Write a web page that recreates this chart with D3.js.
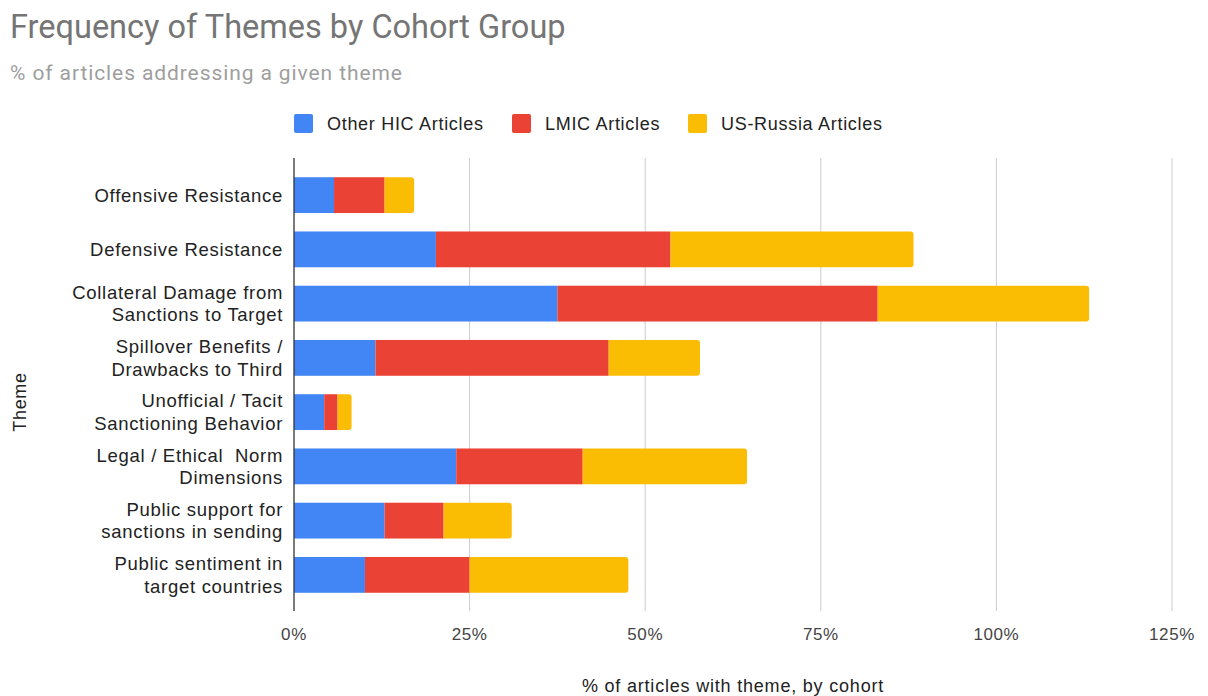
<!DOCTYPE html>
<meta charset="utf-8" />
<style>
  body { margin: 0; background: #fff; }
  text { font-family: "Liberation Sans", Arial, sans-serif; white-space: pre; }
</style>
<body>
<div id="chart"></div>
<script src="https://d3js.org/d3.v7.min.js"></script>
<script>
  // data (percent of articles)
  var themes = [
    ["Offensive Resistance"],
    ["Defensive Resistance"],
    ["Collateral Damage from", "Sanctions to Target"],
    ["Spillover Benefits /", "Drawbacks to Third"],
    ["Unofficial / Tacit", "Sanctioning Behavior"],
    ["Legal / Ethical  Norm", "Dimensions"],
    ["Public support for", "sanctions in sending"],
    ["Public sentiment in", "target countries"]
  ];
  var seriesNames = ["Other HIC Articles", "LMIC Articles", "US-Russia Articles"];
  var otherHIC = [5.7, 20.2, 37.5, 11.6, 4.3, 23.1, 12.9, 10.1];
  var lmic = [7.2, 33.4, 45.6, 33.2, 1.9, 18.0, 8.4, 14.9];
  var usRussia = [4.2, 34.6, 30.1, 13.0, 2.0, 23.4, 9.7, 22.6];
  var xTicks = [0, 25, 50, 75, 100, 125];
  var colors = ["#4285f4", "#ea4335", "#fbbc04"];

  var W = 1208, H = 696;
  var plot = { left: 294, right: 1172, top: 158, bottom: 611 };

  var svg = d3.select("#chart").append("svg")
    .attr("width", W).attr("height", H);

  // title + subtitle
  svg.append("text").attr("x", 10).attr("y", 38)
    .style("font-family", "Roboto").style("font-size", "32.5px")
    .attr("fill", "#757575").text("Frequency of Themes by Cohort Group");
  svg.append("text").attr("x", 10).attr("y", 80)
    .style("font-family", "Roboto").style("font-size", "21px")
    .style("letter-spacing", "0.9px")
    .attr("fill", "#9e9e9e").text("% of articles addressing a given theme");

  // legend
  var legendX = [294, 512, 688];
  seriesNames.forEach(function (name, i) {
    svg.append("rect").attr("x", legendX[i]).attr("y", 114)
      .attr("width", 19).attr("height", 19).attr("rx", 2)
      .attr("fill", colors[i]);
    svg.append("text").attr("x", legendX[i] + 33).attr("y", 130)
      .style("font-size", "18px").style("letter-spacing", "0.7px")
      .attr("fill", "#222").text(name);
  });

  // scales
  var x = d3.scaleLinear().domain([0, 125]).range([plot.left, plot.right]);
  var y = d3.scaleBand().domain(d3.range(themes.length))
    .range([168, 602]).paddingInner(0.34).paddingOuter(0.17);

  // gridlines
  svg.append("g").selectAll("line").data(xTicks.slice(1)).enter()
    .append("line")
    .attr("x1", function (d) { return x(d); }).attr("x2", function (d) { return x(d); })
    .attr("y1", plot.top).attr("y2", plot.bottom)
    .attr("stroke", "#cccccc").attr("stroke-width", 1);

  // tick labels
  svg.append("g").selectAll("text").data(xTicks).enter()
    .append("text")
    .attr("x", function (d) { return x(d); }).attr("y", 640)
    .attr("text-anchor", "middle").style("font-size", "17px")
    .style("letter-spacing", "0.6px")
    .attr("fill", "#444").text(function (d) { return d + "%"; });

  // stacked bars
  var rows = themes.map(function (t, i) {
    return { i: i, a: otherHIC[i], b: lmic[i], c: usRussia[i] };
  });
  var stack = d3.stack().keys(["a", "b", "c"])(rows);

  stack.forEach(function (layer, k) {
    var g = svg.append("g");
    layer.forEach(function (d, i) {
      var x0 = x(d[0]), x1 = x(d[1]), y0 = y(i), h = y.bandwidth();
      if (k < 2) {
        g.append("rect").attr("x", x0).attr("y", y0)
          .attr("width", x1 - x0).attr("height", h).attr("fill", colors[k]);
      } else {
        // last segment: rounded right end
        var r = 3;
        var p = d3.path();
        p.moveTo(x0, y0);
        p.lineTo(x1 - r, y0);
        p.quadraticCurveTo(x1, y0, x1, y0 + r);
        p.lineTo(x1, y0 + h - r);
        p.quadraticCurveTo(x1, y0 + h, x1 - r, y0 + h);
        p.lineTo(x0, y0 + h);
        p.closePath();
        g.append("path").attr("d", p.toString()).attr("fill", colors[k]);
      }
    });
  });

  // zero axis line
  svg.append("line").attr("x1", x(0)).attr("x2", x(0))
    .attr("y1", plot.top).attr("y2", plot.bottom)
    .attr("stroke", "#333").attr("stroke-width", 1.3);

  // category labels
  var lab = svg.append("g");
  themes.forEach(function (lines, i) {
    var cy = y(i) + y.bandwidth() / 2;
    var t = lab.append("text").attr("text-anchor", "end")
      .style("font-size", "18.5px").style("letter-spacing", "0.7px")
      .attr("fill", "#222");
    var lh = 22.5;
    var start = cy - (lines.length - 1) * lh / 2 + 6.5;
    lines.forEach(function (s, j) {
      t.append("tspan").attr("x", 283).attr("y", start + j * lh).text(s);
    });
  });

  // axis titles
  svg.append("text").attr("x", 733).attr("y", 692)
    .attr("text-anchor", "middle").style("font-size", "18px")
    .style("letter-spacing", "0.8px")
    .attr("fill", "#222").text("% of articles with theme, by cohort");
  svg.append("text")
    .attr("transform", "translate(26,402) rotate(-90)")
    .attr("text-anchor", "middle").style("font-size", "18px")
    .style("letter-spacing", "0.7px")
    .attr("fill", "#222").text("Theme");
</script>
</body>
